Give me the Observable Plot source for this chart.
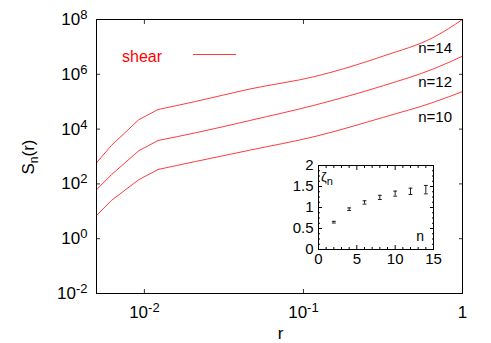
<!DOCTYPE html>
<html><head><meta charset="utf-8">
<script src="https://cdn.jsdelivr.net/npm/d3@7"></script>
<script src="https://cdn.jsdelivr.net/npm/@observablehq/plot@0.6"></script>
<style>
body{margin:0;background:#fff;}
#wrap{position:relative;width:491px;height:343px;font-family:"Liberation Sans",Arial,sans-serif;}
#wrap svg{position:absolute;overflow:visible;}
</style></head><body><div id="wrap"></div>
<script>
// main chart data
const r   = [0.005, 0.0062, 0.0092, 0.0122, 0.021, 0.046, 0.12, 0.32, 0.66, 1];
const s10 = [7.0, 24.8, 141, 336, 658, 1700, 5500, 27200, 95900, 235000];
const s12 = [61, 215, 1610, 3840, 7330, 20600, 77100, 390000, 1590000, 4580000];
const s14 = [589, 2520, 21800, 51900, 102000, 290000, 850000, 4700000, 22600000, 100000000];
const seriesNames = ["n=10", "n=12", "n=14"];
const xTicks = [0.01, 0.1, 1];
const yTicks = [1e-2, 1, 1e2, 1e4, 1e6, 1e8];
const legendLabel = "shear";
// inset data
const nOrder = [2, 4, 6, 8, 10, 12, 14];
const zeta   = [0.65, 0.96, 1.12, 1.24, 1.33, 1.385, 1.425];
const zErr   = [0.02, 0.03, 0.04, 0.05, 0.06, 0.075, 0.1];
const insetXTicks = [0, 5, 10, 15];
const insetYTicks = [0, 0.5, 1, 1.5, 2];

const seriesVals = [s10, s12, s14];
const table = [];
seriesVals.forEach((vals, k) => vals.forEach((v, i) => table.push({r: r[i], s: v, name: seriesNames[k], i})));

const fmtExp = d => (d === 1 ? "10^0" : `10^${Math.round(Math.log10(d))}`);
const fmtX = d => (d === 1 ? "1" : fmtExp(d));
const font = "Liberation Sans, Arial, sans-serif";
const RED = "#ff3c3c";

const main = Plot.plot({
  width: 491, height: 343,
  marginLeft: 96, marginRight: 29, marginTop: 19, marginBottom: 50,
  style: {fontFamily: font, background: "white", color: "black", overflow: "visible"},
  x: {type: "log", domain: [0.005, 1]},
  y: {type: "log", domain: [1e-2, 1e8]},
  marks: [
    Plot.line(table.filter(d => d.i <= 3), {x: "r", y: "s", z: "name", stroke: RED, strokeWidth: 1}),
    Plot.line(table.filter(d => d.i >= 3), {x: "r", y: "s", z: "name", stroke: RED, strokeWidth: 1, curve: "monotone-x"}),
    Plot.axisX(xTicks, {anchor: "bottom", tickSize: -4, tickPadding: 16, fontSize: 17, tickFormat: fmtX, label: null, stroke: "#333"}),
    Plot.axisX(xTicks, {anchor: "top", tickSize: -4, tickFormat: () => "", label: null, stroke: "#333"}),
    Plot.axisY(yTicks, {anchor: "left", tickSize: -4, tickPadding: 13, fontSize: 17, tickFormat: fmtExp, label: null, stroke: "#333"}),
    Plot.axisY(yTicks, {anchor: "right", tickSize: -4, tickFormat: () => "", label: null, stroke: "#333"}),
    Plot.frame({stroke: "black"})
  ]
});
main.style.left = "0px"; main.style.top = "0px";

// superscripts for tick labels
function supify(svg, supSize) {
  svg.querySelectorAll("text").forEach(t => {
    const m = /^10\^(-?\d+)$/.exec(t.textContent);
    if (m) {
      t.textContent = "10";
      const ts = document.createElementNS("http://www.w3.org/2000/svg", "tspan");
      ts.setAttribute("dy", "-6");
      ts.setAttribute("font-size", supSize);
      ts.textContent = m[1];
      t.appendChild(ts);
    }
  });
}
supify(main, 13);

const ms = d3.select(main);
// y axis title S_n(r)
const yt = ms.append("text").attr("transform", "translate(34,157) rotate(-90)")
  .attr("text-anchor", "middle").attr("font-size", 17).attr("fill", "black");
yt.append("tspan").text("S");
yt.append("tspan").attr("dy", 4).attr("font-size", 12).text("n");
yt.append("tspan").attr("dy", -4).text("(r)");
// x axis title
ms.append("text").attr("x", 280.5).attr("y", 339).attr("text-anchor", "middle")
  .attr("font-size", 17).attr("fill", "black").text("r");
// legend
ms.append("text").attr("x", 142).attr("y", 61.5).attr("font-size", 16).attr("fill", "#ff0000").text(legendLabel);
ms.append("line").attr("x1", 193).attr("x2", 236).attr("y1", 54.5).attr("y2", 54.5)
  .attr("stroke", RED).attr("stroke-width", 1);
// series labels
[[seriesNames[2], 53.3], [seriesNames[1], 86.7], [seriesNames[0], 121.7]].forEach(([txt, y]) => {
  ms.append("text").attr("x", 452).attr("y", y).attr("text-anchor", "end")
    .attr("font-size", 15).attr("fill", "black").text(txt);
});

// inset
const pts = nOrder.map((n, i) => ({n, z: zeta[i], e: zErr[i]}));
const minorX = d3.range(0, 16, 1).filter(v => !insetXTicks.includes(v));
const minorY = d3.range(0, 2.0001, 0.125).filter(v => !insetYTicks.some(t => Math.abs(t - v) < 1e-9));
const blank = () => "";
const inset = Plot.plot({
  width: 155, height: 109,
  marginLeft: 30, marginRight: 10, marginTop: 5, marginBottom: 20,
  style: {fontFamily: font, background: "white", color: "black", overflow: "visible"},
  x: {domain: [0, 15]},
  y: {domain: [0, 2]},
  marks: [
    Plot.ruleX(pts, {x: "n", y1: d => d.z - d.e, y2: d => d.z + d.e, stroke: "#222"}),
    Plot.link(pts, {x1: d => d.n - 0.25, x2: d => d.n + 0.25, y1: d => d.z - d.e, y2: d => d.z - d.e, stroke: "#222"}),
    Plot.link(pts, {x1: d => d.n - 0.25, x2: d => d.n + 0.25, y1: d => d.z + d.e, y2: d => d.z + d.e, stroke: "#222"}),
    Plot.axisX(insetXTicks, {anchor: "bottom", tickSize: -4, tickPadding: 8, fontSize: 15, tickFormat: d => String(d), label: null}),
    Plot.axisX(insetXTicks, {anchor: "top", tickSize: -4, tickFormat: blank, label: null}),
    Plot.axisX(minorX, {anchor: "bottom", tickSize: -2, tickFormat: blank, label: null}),
    Plot.axisX(minorX, {anchor: "top", tickSize: -2, tickFormat: blank, label: null}),
    Plot.axisY(insetYTicks, {anchor: "left", tickSize: -4, tickPadding: 9, fontSize: 15, tickFormat: d => String(d), label: null}),
    Plot.axisY(insetYTicks, {anchor: "right", tickSize: -4, tickFormat: blank, label: null}),
    Plot.axisY(minorY, {anchor: "left", tickSize: -2, tickFormat: blank, label: null}),
    Plot.axisY(minorY, {anchor: "right", tickSize: -2, tickFormat: blank, label: null}),
    Plot.frame({stroke: "black"})
  ]
});
inset.style.left = "288px"; inset.style.top = "160px";
const is = d3.select(inset);
const zt = is.append("text").attr("x", 39).attr("y", 20.5).attr("font-size", 13).attr("fill", "black");
zt.append("tspan").text("ζ");
zt.append("tspan").attr("dy", 4).attr("font-size", 11).attr("fill", "black").text("n");
is.append("text").attr("x", 136).attr("y", 80.5).attr("text-anchor", "end")
  .attr("font-size", 14).attr("fill", "black").text("n");

const wrap = document.getElementById("wrap");
wrap.appendChild(main);
wrap.appendChild(inset);
</script>
</body></html>
